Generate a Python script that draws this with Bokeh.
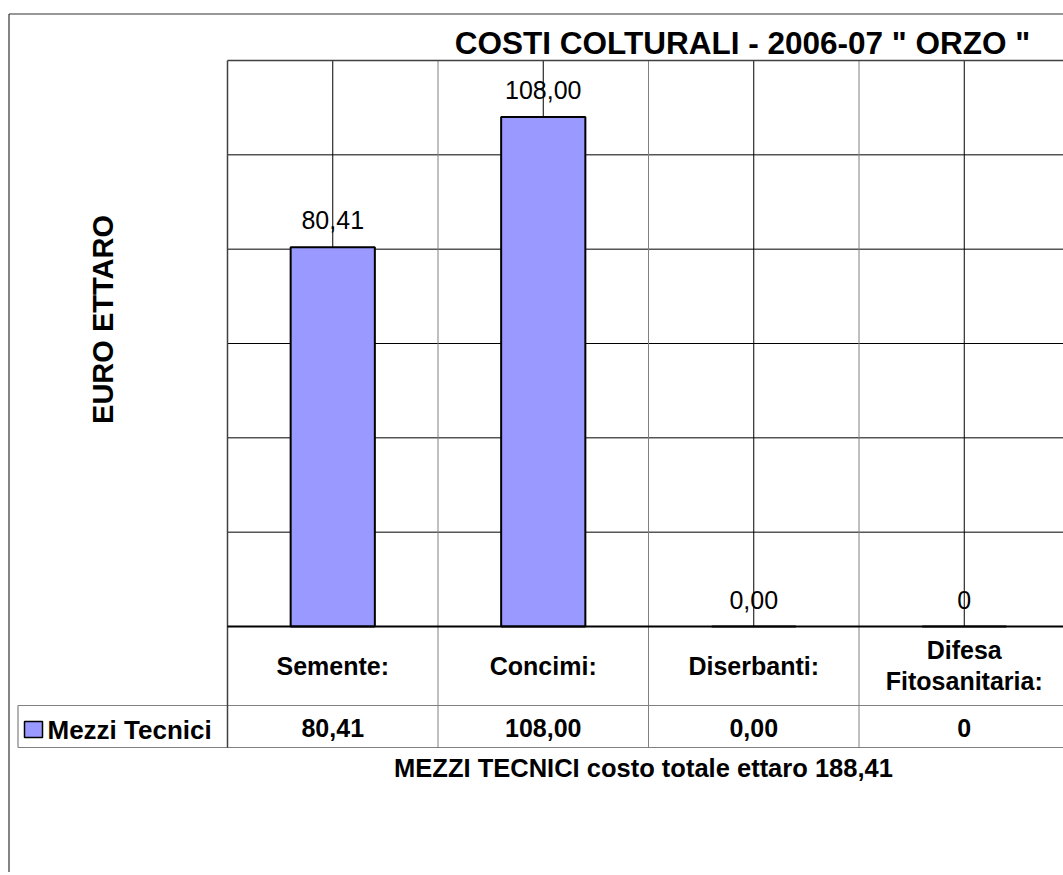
from math import pi
from bokeh.plotting import figure
from bokeh.models import Range1d
from bokeh.core.properties import value
from bokeh.embed import file_html
from bokeh.resources import INLINE

# ---------------- data ----------------
categories = ["Semente:", "Concimi:", "Diserbanti:", "Difesa\nFitosanitaria:"]
values = [80.41, 108.00, 0.00, 0.0]
value_labels = ["80,41", "108,00", "0,00", "0"]
series_name = "Mezzi Tecnici"
title_text = 'COSTI COLTURALI - 2006-07 " ORZO "'
y_title = "EURO ETTARO"
footnote = "MEZZI TECNICI costo totale ettaro 188,41"
y_max = 120
y_step = 20

# ---------------- layout (screen pixels) ----------------
W, H = 1063, 872
ORG = 0
PL, PT, PB = 227, 60, 626      # plot area left / top / bottom
CW = 210.5                     # category width in px
U = (PB - PT) / y_max          # px per euro

def X(px):
    return (px - PL) / CW

def Y(py):
    return (PB - py) / U

FONT = value("Liberation Sans")
BAR_FILL = "#9999FF"
GRID = "black"
TABLE = "#808080"
BORDER = "#404040"

p = figure(width=W, height=H, title=None,
           x_range=Range1d(X(ORG), X(ORG + W)),
           y_range=Range1d(Y(ORG + H), Y(ORG)),
           x_axis_location=None, y_axis_location=None,
           toolbar_location=None, output_backend="svg",
           min_border=0, outline_line_color=None)
p.grid.visible = False
p.background_fill_color = "white"
p.border_fill_color = "white"

n = len(categories)
centers = [i + 0.5 for i in range(n)]
x_right = X(ORG + W) + 0.1

# outer chart border (top & left visible)
p.segment(x0=[X(8.5), X(8.5)], y0=[Y(13.5), Y(13.5)],
          x1=[x_right, X(8.5)], y1=[Y(13.5), Y(ORG + H + 5)],
          line_color="#333333", line_width=1.2)

# horizontal gridlines
gy = list(range(y_step, y_max, y_step))
p.segment(x0=[0] * len(gy), y0=gy, x1=[x_right] * len(gy), y1=gy,
          line_color=GRID, line_width=1)

# vertical category-boundary lines (plot + table)
tb_bottom = Y(747)
tb_mid = Y(705)
bx = list(range(1, n + 1))
p.segment(x0=bx, y0=[tb_bottom] * len(bx), x1=bx, y1=[y_max] * len(bx),
          line_color=TABLE, line_width=1)

# vertical gridlines at category centers
p.segment(x0=centers, y0=[0] * n, x1=centers, y1=[y_max] * n,
          line_color=GRID, line_width=1)

# table horizontal lines
p.segment(x0=[X(17.5), X(17.5)], y0=[tb_mid, tb_bottom],
          x1=[x_right, x_right], y1=[tb_mid, tb_bottom],
          line_color=TABLE, line_width=1.2)
# legend cell left
p.segment(x0=[X(17.5)], y0=[tb_mid], x1=[X(17.5)], y1=[tb_bottom],
          line_color=TABLE, line_width=1.2)

# bars
p.vbar(x=centers, top=values, bottom=0, width=0.4,
       fill_color=BAR_FILL, line_color="black", line_width=2)

# plot area border (top + left) and x axis line
p.segment(x0=[0, 0], y0=[y_max, tb_bottom], x1=[x_right, 0], y1=[y_max, y_max],
          line_color=BORDER, line_width=1.5)
p.segment(x0=[0], y0=[0], x1=[x_right], y1=[0],
          line_color="black", line_width=1.8)

# data labels above bars
p.text(x=centers, y=values, text=value_labels, y_offset=-27,
       text_font=FONT, text_font_size="25px", text_align="center",
       text_baseline="middle", text_color="black")

# category labels (table header row)
p.text(x=centers, y=[Y(665)] * n, text=categories,
       text_font=FONT, text_font_size="25px", text_font_style="bold",
       text_align="center", text_baseline="middle", text_line_height=1.1,
       text_color="black")

# values row
p.text(x=centers, y=[Y(727.5)] * n, text=value_labels,
       text_font=FONT, text_font_size="25px", text_font_style="bold",
       text_align="center", text_baseline="middle", text_color="black")

# legend key + name
p.quad(left=[X(24)], right=[X(42)], top=[Y(721)], bottom=[Y(737)],
       fill_color=BAR_FILL, line_color="black", line_width=1.5)
p.text(x=[X(47)], y=[Y(729)], text=[series_name],
       text_font=FONT, text_font_size="26px", text_font_style="bold",
       text_align="left", text_baseline="middle", text_color="black")

# title
p.text(x=[X(742)], y=[Y(42.5)], text=[title_text],
       text_font=FONT, text_font_size="31.5px", text_font_style="bold",
       text_align="center", text_baseline="middle", text_color="black")

# y axis title
p.text(x=[X(102.5)], y=[Y(319)], text=[y_title], angle=pi / 2,
       text_font=FONT, text_font_size="29px", text_font_style="bold",
       text_align="center", text_baseline="middle", text_color="black")

# footnote
p.text(x=[X(643)], y=[Y(767)], text=[footnote],
       text_font=FONT, text_font_size="25.5px", text_font_style="bold",
       text_align="center", text_baseline="middle", text_color="black")

open("out.html", "w").write(file_html(p, INLINE))
